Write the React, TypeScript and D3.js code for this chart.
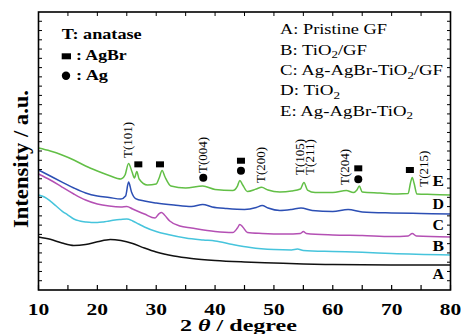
import * as d3 from "d3";

// 2θ (degree) vs intensity (a.u., offset curves)
const curveA: [number, number][] = [
  [10, 5.72], [12, 5.47], [14, 5.07], [16, 4.8], [18, 4.91], [20, 5.2], [22.2, 5.46],
  [24, 5.34], [26, 5.02], [28, 4.53], [30, 4.1], [33, 3.67], [36, 3.4], [40, 3.18],
  [45, 3.02], [50, 2.91], [55, 2.81], [60, 2.75], [70, 2.7], [80, 2.7],
];
const curveB: [number, number][] = [
  [10, 10.25], [11, 10.04], [12, 9.6], [13, 9.06], [14, 8.52], [15, 8.09], [16, 7.66],
  [17, 7.45], [18, 7.34], [19, 7.28], [20, 7.28], [21, 7.34], [22, 7.45], [23, 7.55],
  [24, 7.61], [25, 7.66], [26, 7.45], [27, 7.12], [28, 6.8], [30, 6.31], [32, 5.99],
  [35, 5.61], [38, 5.4], [40, 5.29], [43, 4.91], [46, 4.59], [50, 4.37], [53, 4.32],
  [54, 4.42], [55, 4.26], [60, 4.15], [65, 4.07], [70, 3.94], [80, 3.78],
];
const curveC: [number, number][] = [
  [10, 12.52], [12, 11.87], [14, 11.11], [16, 10.36], [18, 9.71], [20, 9.28], [22, 9.06],
  [24, 8.96], [25, 9.01], [26, 8.74], [28, 8.2], [29.8, 7.77], [30.5, 8.25], [30.9, 8.36],
  [31.4, 8.09], [32.3, 7.45], [34, 6.91], [36, 6.69], [40, 6.31], [43, 6.2], [43.8, 6.69],
  [44.2, 7.07], [44.7, 6.8], [45.5, 6.2], [48, 6.1], [52, 6.04], [54.5, 6.1], [55, 6.31],
  [55.5, 6.1], [60, 5.94], [65, 5.88], [70, 5.77], [72.8, 5.83], [73.5, 6.1], [74.2, 5.83],
  [80, 5.72],
];
const curveD: [number, number][] = [
  [10, 12.95], [12, 12.3], [14, 11.65], [16, 11.01], [18, 10.47], [20, 10.14], [22, 9.98],
  [24, 9.82], [24.8, 10.14], [25.3, 11.65], [25.8, 10.58], [26.5, 9.87], [28, 9.6],
  [30, 9.39], [33, 9.17], [36, 9.01], [37.9, 9.23], [39.5, 8.96], [42, 8.79], [45, 8.69],
  [47, 8.9], [48, 9.12], [49, 8.85], [51, 8.58], [53, 8.69], [54.6, 8.85], [56.5, 8.58],
  [60, 8.47], [62.6, 8.69], [65, 8.42], [70, 8.31], [75, 8.26], [80, 8.2],
];
const curveE: [number, number][] = [
  [10, 15.32], [12, 15.0], [14, 14.57], [16, 14.03], [18, 13.38], [20, 12.84], [22, 12.36],
  [24, 11.98], [24.7, 12.41], [25.3, 13.65], [25.9, 12.73], [26.3, 12.09], [26.7, 12.79],
  [27.1, 11.98], [28.5, 11.33], [30, 11.44], [30.5, 12.09], [31, 12.9], [31.5, 12.19],
  [32.5, 11.22], [35, 11.01], [37.9, 11.22], [40, 10.85], [43, 10.74], [43.8, 11.22],
  [44.2, 11.82], [44.7, 11.33], [45.5, 10.63], [47, 10.9], [47.9, 11.08], [49, 10.79],
  [51, 10.58], [53, 10.68], [54.5, 10.9], [55.1, 11.6], [55.7, 10.79], [57, 10.52],
  [60, 10.52], [62.3, 10.74], [63.5, 10.52], [64.1, 10.79], [64.5, 11.22], [65, 10.58],
  [68, 10.47], [71, 10.36], [72.8, 10.41], [73.2, 11.55], [73.5, 12.14], [73.8, 11.55],
  [74.3, 10.36], [77, 10.31], [80, 10.25],
];

const seriesKeys = ["A", "B", "C", "D", "E"];
const seriesCurves = [curveA, curveB, curveC, curveD, curveE];
const seriesLabelY = [1.15, 4.24, 6.47, 8.71, 11.22];

const legendLabels = [
  "A: Pristine GF",
  "B: TiO_2/GF",
  "C: Ag-AgBr-TiO_2/GF",
  "D: TiO_2",
  "E: Ag-AgBr-TiO_2",
];

// anatase reflections
const peakLabels = ["T(101)", "T(004)", "T(200)", "T(105)", "T(211)", "T(204)", "T(215)"];
const peakTheta = [25.26, 38.0, 47.75, 54.43, 56.13, 62.08, 75.5];
const peakLabelBase = [14.24, 12.63, 11.55, 12.41, 12.41, 11.33, 11.15];

// AgBr (square) and Ag (circle) markers
const agbrMarks: [number, number][] = [
  [26.96, 13.56], [30.64, 13.56], [44.4, 13.95], [64.33, 13.13], [73.1, 12.95],
];
const agMarks: [number, number][] = [[38.0, 12.12], [44.4, 12.87], [64.33, 11.95]];

const xTicks = [10, 20, 30, 40, 50, 60, 70, 80];

const COLORS: Record<string, string> = {
  A: "#111111",
  B: "#46c4dc",
  C: "#b450b4",
  D: "#2c4fb4",
  E: "#62bf46",
};
const SERIF = "Liberation Serif, Times New Roman, DejaVu Serif, serif";

const W = 461;
const H = 334;
const plot = { left: 38.5, right: 450.5, top: 12, bottom: 290 };

const x = d3.scaleLinear().domain([10, 80]).range([plot.left, plot.right]);
const y = d3.scaleLinear().domain([0, 30]).range([plot.bottom, plot.top]);

const line = d3
  .line<[number, number]>()
  .x((d) => x(d[0]))
  .y((d) => y(d[1]))
  .curve(d3.curveMonotoneX);

const legendWidths = [107, 87, 163, 60, 133];
const legendBaselines = [33.5, 54.5, 75, 95, 115.5];

const txt = { fontFamily: SERIF };

const renderSub = (label: string) => {
  const parts = label.split("_2");
  const out: any[] = [];
  parts.forEach((p, i) => {
    out.push(
      <tspan key={"p" + i} dy={i > 0 ? -3.5 : 0}>
        {p}
      </tspan>
    );
    if (i < parts.length - 1)
      out.push(
        <tspan key={"s" + i} fontSize={10} dy={3.5}>
          2
        </tspan>
      );
  });
  return out;
};

export default function App() {
  const minorX = d3.range(10, 80.01, 5);
  const minorY = d3.range(1, 30);

  return (
    <svg
      width={W}
      height={H}
      style={{ position: "absolute", left: 0, top: 0, background: "#fff", fontFamily: SERIF }}
    >
      <rect width={W} height={H} fill="#fff" />

      {/* curves */}
      {seriesCurves.map((c, i) => (
        <path
          key={seriesKeys[i]}
          d={line(c) || ""}
          fill="none"
          stroke={COLORS[seriesKeys[i]]}
          strokeWidth={1.5}
        />
      ))}

      {/* ticks */}
      {minorX.map((t) => (
        <g key={"tx" + t}>
          <line x1={x(t)} x2={x(t)} y1={plot.bottom} y2={plot.bottom - 5} stroke="#000" strokeWidth={1.2} />
          <line x1={x(t)} x2={x(t)} y1={plot.top} y2={plot.top + 4} stroke="#000" strokeWidth={1} />
        </g>
      ))}
      {minorY.map((t) => (
        <g key={"ty" + t}>
          <line x1={plot.left} x2={plot.left + 3.5} y1={y(t)} y2={y(t)} stroke="#000" strokeWidth={1} />
          <line x1={plot.right} x2={plot.right - 3.5} y1={y(t)} y2={y(t)} stroke="#000" strokeWidth={1} />
        </g>
      ))}
      <rect
        x={plot.left}
        y={plot.top}
        width={plot.right - plot.left}
        height={plot.bottom - plot.top}
        fill="none"
        stroke="#000"
        strokeWidth={1.6}
      />

      {/* x tick labels */}
      {xTicks.map((t) => (
        <text
          key={"xl" + t}
          x={x(t)}
          y={314.5}
          textAnchor="middle"
          fontSize={17}
          fontWeight="bold"
          textLength={21.5}
          lengthAdjust="spacingAndGlyphs"
          style={txt}
        >
          {t}
        </text>
      ))}

      {/* axis titles */}
      <text
        x={180}
        y={330.5}
        fontSize={16.5}
        fontWeight="bold"
        textLength={117}
        lengthAdjust="spacingAndGlyphs"
        style={txt}
      >
        <tspan>2 </tspan>
        <tspan fontStyle="italic">θ</tspan>
        <tspan> / degree</tspan>
      </text>
      <text
        transform="translate(27.5,228) rotate(-90)"
        fontSize={20}
        fontWeight="bold"
        textLength={138}
        lengthAdjust="spacingAndGlyphs"
        style={txt}
      >
        Intensity / a.u.
      </text>

      {/* peak labels */}
      {peakLabels.map((lab, i) => (
        <text
          key={lab}
          transform={`translate(${x(peakTheta[i]) + 4},${y(peakLabelBase[i])}) rotate(-90)`}
          fontSize={12}
          textLength={36}
          lengthAdjust="spacingAndGlyphs"
          style={txt}
        >
          {lab}
        </text>
      ))}

      {/* markers */}
      {agbrMarks.map((m, i) => (
        <rect key={"sq" + i} x={x(m[0]) - 4} y={y(m[1]) - 3} width={8} height={6} fill="#000" />
      ))}
      {agMarks.map((m, i) => (
        <circle key={"ci" + i} cx={x(m[0])} cy={y(m[1])} r={4} fill="#000" />
      ))}

      {/* curve letters */}
      {seriesKeys.map((k, i) => (
        <text
          key={"lab" + k}
          x={444}
          y={y(seriesLabelY[i])}
          textAnchor="end"
          fontSize={14}
          fontWeight="bold"
          textLength={11.5}
          lengthAdjust="spacingAndGlyphs"
          style={txt}
        >
          {k}
        </text>
      ))}

      {/* phase legend */}
      <text x={61.7} y={39} fontSize={14} fontWeight="bold" textLength={80} lengthAdjust="spacingAndGlyphs" style={txt}>
        T: anatase
      </text>
      <rect x={61.7} y={53.3} width={9.3} height={6} fill="#000" />
      <text x={76} y={59.5} fontSize={14} fontWeight="bold" textLength={50.7} lengthAdjust="spacingAndGlyphs" style={txt}>
        : AgBr
      </text>
      <circle cx={66} cy={75.8} r={4.2} fill="#000" />
      <text x={76} y={80} fontSize={14} fontWeight="bold" textLength={32} lengthAdjust="spacingAndGlyphs" style={txt}>
        : Ag
      </text>

      {/* sample legend */}
      {legendLabels.map((lab, i) => (
        <text
          key={"lg" + i}
          x={280}
          y={legendBaselines[i]}
          fontSize={14.5}
          textLength={legendWidths[i]}
          lengthAdjust="spacingAndGlyphs"
          style={txt}
        >
          {renderSub(lab)}
        </text>
      ))}
    </svg>
  );
}
